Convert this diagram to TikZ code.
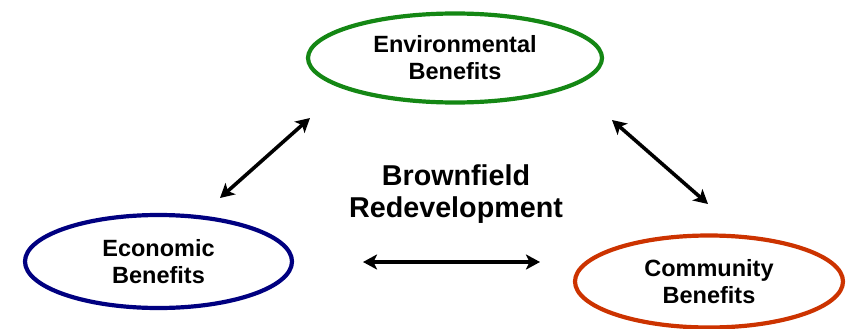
\documentclass[tikz,border=0pt]{standalone}
\usepackage{fontspec}
\setmainfont{Liberation Sans}
\usetikzlibrary{shapes.geometric,arrows.meta}
\definecolor{envgreen}{RGB}{20,135,20}
\definecolor{econblue}{RGB}{0,0,128}
\definecolor{commred}{RGB}{204,51,0}
\begin{document}
\begin{tikzpicture}[x=1pt,y=-1pt,
  benefit/.style={ellipse,draw,line width=4.2pt,inner sep=0pt,align=center,
    font=\fontsize{23.5}{27}\selectfont\bfseries},
  link/.style={line width=3.6pt,{Stealth[length=14pt,width=15pt,inset=3.5pt]}-{Stealth[length=14pt,width=15pt,inset=3.5pt]}}]
\useasboundingbox (0,0) rectangle (846,329);
\node[benefit,draw=envgreen,minimum width=294pt,minimum height=89pt] (env) at (455,58) {Environmental\\Benefits};
\node[benefit,draw=econblue,minimum width=267pt,minimum height=93pt] (econ) at (158.5,261.5) {Economic\\Benefits};
\node[benefit,draw=commred,minimum width=268pt,minimum height=92pt] (comm) at (709,281.5) {Community\\Benefits};
\node[align=center,font=\fontsize{28.7}{32}\selectfont\bfseries] (core) at (456,194.5) {Brownfield\\Redevelopment};
% free-standing double-headed links between the three benefit areas
\coordinate (a1) at (220,198);
\coordinate (a2) at (310,118);
\coordinate (b1) at (612,120);
\coordinate (b2) at (708,204);
\coordinate (c1) at (363,262);
\coordinate (c2) at (540,262);
\draw[link] (a1) -- (a2);
\draw[link] (b1) -- (b2);
\draw[link] (c1) -- (c2);
\end{tikzpicture}
\end{document}
